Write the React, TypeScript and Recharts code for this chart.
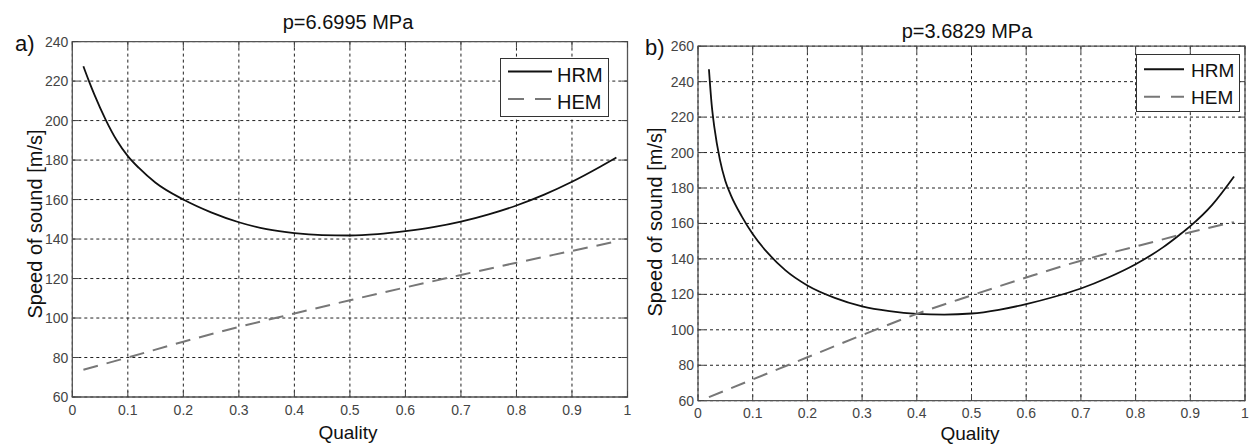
import { CartesianGrid, Legend, Line, LineChart, ReferenceArea, XAxis, YAxis } from "recharts";

const FONT = '"Liberation Sans", Arial, sans-serif';

const qualityTicks = [0, 0.1, 0.2, 0.3, 0.4, 0.5, 0.6, 0.7, 0.8, 0.9, 1];
const speedTicksA = [60, 80, 100, 120, 140, 160, 180, 200, 220, 240];
const speedTicksB = [60, 80, 100, 120, 140, 160, 180, 200, 220, 240, 260];

// a) p=6.6995 MPa
const hrmQualityA = [0.02, 0.03, 0.04, 0.06, 0.08, 0.1, 0.12, 0.15, 0.2, 0.25, 0.3, 0.35, 0.4, 0.45, 0.5, 0.55, 0.6, 0.65, 0.7, 0.75, 0.8, 0.85, 0.9, 0.95, 0.98];
const hrmSpeedA = [227.5, 220, 213, 200.5, 190, 182, 176, 168.5, 160, 153.5, 148.5, 145, 143, 142, 141.8, 142.5, 144, 146, 148.8, 152.5, 157, 162.5, 169, 176.5, 181.3];
const hemQualityA = [0.02, 0.1, 0.2, 0.3, 0.4, 0.5, 0.6, 0.7, 0.8, 0.9, 0.98];
const hemSpeedA = [73.8, 80, 88, 95.5, 102.3, 109, 115.5, 121.8, 128, 134, 138.8];

// b) p=3.6829 MPa
const hrmQualityB = [0.02, 0.025, 0.03, 0.04, 0.05, 0.06, 0.08, 0.1, 0.13, 0.16, 0.2, 0.25, 0.3, 0.35, 0.4, 0.45, 0.5, 0.55, 0.6, 0.65, 0.7, 0.75, 0.8, 0.85, 0.88, 0.9, 0.94, 0.98];
const hrmSpeedB = [247, 227, 214, 196, 184, 176, 164, 154, 142.5, 133.5, 125, 118, 113.2, 110.5, 109, 108.6, 109.2, 111.3, 114.5, 118.5, 123.3, 129.5, 137, 146.5, 153.5, 158.5, 170.5, 186.5];
const hemQualityB = [0.02, 0.1, 0.2, 0.3, 0.4, 0.5, 0.6, 0.7, 0.8, 0.9, 0.98];
const hemSpeedB = [62, 72, 84.5, 97, 109, 119.4, 129.5, 139, 147, 155, 160.8];

const toPoints = (q: number[], v: number[]) => q.map((x, i) => ({ quality: x, speed: v[i] }));

type LegendBoxProps = { w: number; h: number; fs: number; lineEnd: number; textX: number; rows: [number, number][] };

function LegendBox({ w, h, fs, lineEnd, textX, rows }: LegendBoxProps) {
  return (
    <svg width={w} height={h} style={{ display: "block", background: "#fff" }}>
      <rect x={0.5} y={0.5} width={w - 1} height={h - 1} fill="#fff" stroke="#333" />
      <line x1={8} x2={lineEnd} y1={rows[0][0]} y2={rows[0][0]} stroke="#111" strokeWidth={2} />
      <text x={textX} y={rows[0][1]} fontSize={fs} fontFamily={FONT} fill="#111">HRM</text>
      <line x1={8} x2={lineEnd} y1={rows[1][0]} y2={rows[1][0]} stroke="#777" strokeWidth={2} strokeDasharray="16 11" />
      <text x={textX} y={rows[1][1]} fontSize={fs} fontFamily={FONT} fill="#111">HEM</text>
    </svg>
  );
}

type PanelProps = {
  left: number;
  width: number;
  plot: { l: number; r: number; t: number; b: number };
  yTicks: number[];
  hrm: { quality: number; speed: number }[];
  hem: { quality: number; speed: number }[];
  legendAt: { left: number; top: number };
  legend: LegendBoxProps;
};

function Panel({ left, width, plot, yTicks, hrm, hem, legendAt, legend }: PanelProps) {
  const height = 444;
  const yMin = yTicks[0];
  const yMax = yTicks[yTicks.length - 1];
  const xTick = (p: any) => {
    const v = p.payload.value as number;
    return (
      <g>
        <line x1={p.x} x2={p.x} y1={plot.b} y2={plot.b - 6} stroke="#444" />
        <line x1={p.x} x2={p.x} y1={plot.t} y2={plot.t + 6} stroke="#444" />
        <text x={p.x} y={plot.b + 17.5} textAnchor="middle" fontSize={14} fontFamily={FONT} fill="#444">
          {String(Number(v.toFixed(1)))}
        </text>
      </g>
    );
  };
  const yTick = (p: any) => (
    <g>
      <line x1={plot.l} x2={plot.l + 6} y1={p.y} y2={p.y} stroke="#444" />
      <line x1={plot.r} x2={plot.r - 6} y1={p.y} y2={p.y} stroke="#444" />
      <text x={plot.l - 4} y={p.y + 5} textAnchor="end" fontSize={14} fontFamily={FONT} fill="#444">
        {p.payload.value}
      </text>
    </g>
  );
  return (
    <div style={{ position: "absolute", left, top: 0, width, height }}>
      <LineChart
        width={width}
        height={height}
        margin={{ top: plot.t, right: width - plot.r, left: 0, bottom: height - plot.b - 20 }}
      >
        <CartesianGrid stroke="#222" strokeDasharray="3 3" strokeWidth={1} />
        <XAxis
          dataKey="quality"
          type="number"
          domain={[0, 1]}
          ticks={qualityTicks}
          interval={0}
          height={20}
          axisLine={false}
          tickLine={false}
          tickSize={0}
          tickMargin={0}
          tick={xTick}
          allowDataOverflow
        />
        <YAxis
          type="number"
          domain={[yMin, yMax]}
          ticks={yTicks}
          interval={0}
          width={plot.l}
          axisLine={false}
          tickLine={false}
          tickSize={0}
          tickMargin={0}
          tick={yTick}
          allowDataOverflow
        />
        <ReferenceArea x1={0} x2={1} y1={yMin} y2={yMax} fill="none" stroke="#555" strokeWidth={1.3} ifOverflow="visible" />
        <Line
          data={hrm}
          dataKey="speed"
          name="HRM"
          type="monotone"
          stroke="#111"
          strokeWidth={1.8}
          dot={false}
          isAnimationActive={false}
        />
        <Line
          data={hem}
          dataKey="speed"
          name="HEM"
          type="monotone"
          stroke="#777"
          strokeWidth={2}
          strokeDasharray="15 9"
          dot={false}
          isAnimationActive={false}
        />
        <Legend
          layout="horizontal"
          verticalAlign="middle"
          align="center"
          wrapperStyle={{ position: "absolute", left: legendAt.left, top: legendAt.top, width: legend.w, height: legend.h }}
          content={() => <LegendBox {...legend} />}
        />
      </LineChart>
    </div>
  );
}

export default function App() {
  return (
    <div style={{ position: "absolute", left: 0, top: 0, width: 1249, height: 444, background: "#fff", overflow: "hidden" }}>
      <Panel
        left={0}
        width={640}
        plot={{ l: 72.3, r: 627.5, t: 41.6, b: 397 }}
        yTicks={speedTicksA}
        hrm={toPoints(hrmQualityA, hrmSpeedA)}
        hem={toPoints(hemQualityA, hemSpeedA)}
        legendAt={{ left: 500, top: 58 }}
        legend={{ w: 109, h: 59, fs: 20, lineEnd: 52, textX: 57, rows: [[13.5, 23.5], [41, 51]] }}
      />
      <Panel
        left={640}
        width={609}
        plot={{ l: 58, r: 605, t: 46.2, b: 400.7 }}
        yTicks={speedTicksB}
        hrm={toPoints(hrmQualityB, hrmSpeedB)}
        hem={toPoints(hemQualityB, hemSpeedB)}
        legendAt={{ left: 496, top: 54 }}
        legend={{ w: 104, h: 58, fs: 19, lineEnd: 48, textX: 55, rows: [[15.3, 23.3], [42.7, 50]] }}
      />
      <svg width={1249} height={444} style={{ position: "absolute", left: 0, top: 0, pointerEvents: "none" }} fontFamily={FONT} fill="#111">
        <text x={348} y={29} textAnchor="middle" fontSize={20}>p=6.6995 MPa</text>
        <text x={967} y={37.5} textAnchor="middle" fontSize={20}>p=3.6829 MPa</text>
        <text x={15} y={51} fontSize={22}>a)</text>
        <text x={645} y={55} fontSize={22}>b)</text>
        <text transform="translate(42,224) rotate(-90)" textAnchor="middle" fontSize={20}>Speed of sound [m/s]</text>
        <text transform="translate(662,222) rotate(-90)" textAnchor="middle" fontSize={20}>Speed of sound [m/s]</text>
        <text x={348} y={438.5} textAnchor="middle" fontSize={19}>Quality</text>
        <text x={970} y={440} textAnchor="middle" fontSize={19}>Quality</text>
      </svg>
    </div>
  );
}
